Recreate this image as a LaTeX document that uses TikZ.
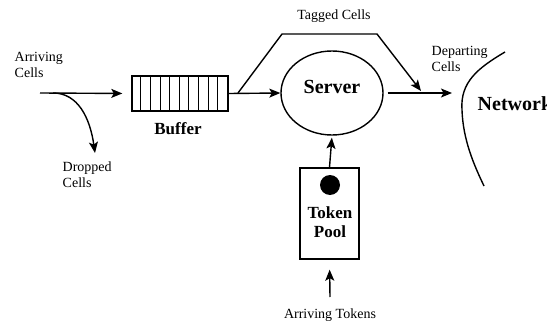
\documentclass[tikz,border=0pt]{standalone}
\usepackage{fontspec}
\setmainfont{Liberation Serif}
\usetikzlibrary{arrows.meta,shapes.geometric,calc}
\begin{document}
\begin{tikzpicture}[x=1pt,y=-1pt,
  line width=1.4pt,
  tip/.style={-{Stealth[length=11pt,width=9pt,inset=2.5pt]}},
  lbl/.style={font=\fontsize{14}{15.5}\selectfont, inner sep=0pt, align=left},
  blbl/.style={font=\fontsize{17}{19}\selectfont\bfseries, inner sep=0pt, align=center},
  big/.style={font=\fontsize{20}{22}\selectfont\bfseries, inner sep=0pt}]
\useasboundingbox (0,0) rectangle (547,324);

% labels
\node[lbl, anchor=west] (arrcells) at (14,65) {Arriving\\Cells};
\node[lbl, anchor=west] (dropcells) at (62,174.5) {Dropped\\Cells};
\node[lbl] (tagged) at (334,16) {Tagged Cells};
\node[lbl, anchor=west] (depcells) at (431,59) {Departing\\Cells};
\node[lbl] (arrtok) at (330,315) {Arriving Tokens};

% buffer
\node[draw, rectangle, minimum width=96pt, minimum height=35pt, inner sep=0pt] (buffer) at (180,93.5) {};
\foreach \i in {1,...,9} \draw[line width=1.1pt] ($(buffer.north west)+(9.6*\i,0)$) -- ($(buffer.south west)+(9.6*\i,0)$);
\node[blbl] (buflbl) at (178,129) {Buffer};

% server
\node[draw, ellipse, minimum width=102pt, minimum height=84pt, inner sep=0pt] (server) at (332,93) {};
\node[big] (srvlbl) at (332,87) {Server};

% token pool
\node[draw, rectangle, minimum width=59pt, minimum height=91pt, inner sep=0pt] (pool) at (329.5,213.5) {};
\node[circle, fill=black, minimum size=20pt, inner sep=0pt] (token) at (330,185) {};
\node[blbl] (poollbl) at (330,222) {Token\\Pool};

% network
\node[big, anchor=west] (netlbl) at (477,104) {Network};
\draw (505,52) .. controls (478,68) and (460,82) .. (462,110) .. controls (463,140) and (474,165) .. (484,186);

% coordinates
\coordinate (ain) at (40,93);
\coordinate (dropend) at (95,153);
\coordinate (dropstart) at (53,93);
\coordinate (tagstart) at (238,93);
\coordinate (tag1) at (282,34);
\coordinate (tag2) at (377,34);
\coordinate (tagend) at (421,91);
\coordinate (netin) at (452,93);
\coordinate (tokin) at (330,297);

% connectors
\draw[tip, shorten >=9pt] (ain) -- (buffer.west);
\draw[tip] (dropstart) .. controls (78,93) and (90,118) .. (dropend);
\draw[tip] (buffer.east) -- (server.west);
\draw[tip] (tagstart) -- (tag1) -- (tag2) -- (tagend);
\draw[tip, shorten <=4pt] (server.east) -- (netin);
\draw[tip, shorten >=2pt] (pool.north) -- (server.south);
\draw[tip, shorten >=10pt] (tokin) -- (pool.south);
\end{tikzpicture}
\end{document}
